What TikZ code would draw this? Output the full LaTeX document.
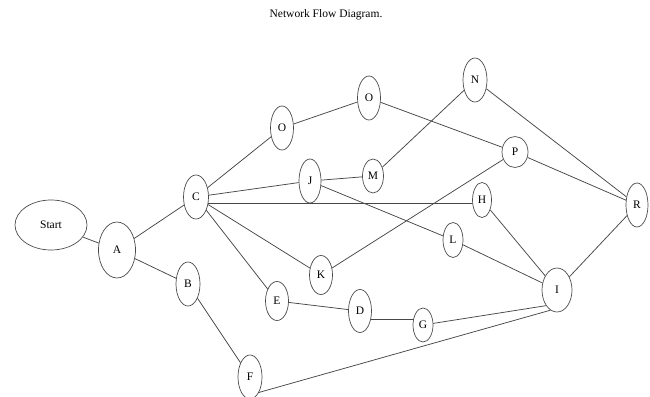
\documentclass[tikz,border=0pt]{standalone}
\usepackage{fontspec}
\setmainfont{Liberation Serif}
\usetikzlibrary{shapes.geometric,backgrounds}
\begin{document}
\begin{tikzpicture}[x=1pt,y=-1pt,
  every node/.style={font=\fontsize{11.5}{13}\selectfont},
  nd/.style={ellipse,draw=black!70,line width=0.7pt,inner sep=0pt,fill=white},
  edge/.style={draw=black!72,line width=0.75pt}]
\useasboundingbox (0,0) rectangle (650,396);
\node (title) at (326,15) {Network Flow Diagram.};
\node[nd,minimum width=72,minimum height=50] (start) at (51,225) {Start};
\node[nd,minimum width=37,minimum height=56] (A) at (117,250) {A};
\node[nd,minimum width=25,minimum height=44] (C) at (196,197) {C};
\node[nd,minimum width=24,minimum height=44] (B) at (188,284) {B};
\node[nd,minimum width=23,minimum height=44] (O1) at (282,128) {O};
\node[nd,minimum width=23,minimum height=44] (O2) at (369,98) {O};
\node[nd,minimum width=22,minimum height=44] (J) at (310,181) {J};
\node[nd,minimum width=21,minimum height=34] (M) at (373,176) {M};
\node[nd,minimum width=24,minimum height=44] (N) at (475,80) {N};
\node[nd,minimum width=26,minimum height=31] (P) at (515,152) {P};
\node[nd,minimum width=19,minimum height=35] (H) at (482,200) {H};
\node[nd,minimum width=22,minimum height=44] (R) at (637,205) {R};
\node[nd,minimum width=20,minimum height=35] (L) at (453,240) {L};
\node[nd,minimum width=23,minimum height=39] (K) at (321,275) {K};
\node[nd,minimum width=23,minimum height=39] (E) at (277,301) {E};
\node[nd,minimum width=23,minimum height=43] (D) at (360,311) {D};
\node[nd,minimum width=20,minimum height=34] (G) at (423,325) {G};
\node[nd,minimum width=30,minimum height=44] (I) at (557,290) {I};
\node[nd,minimum width=24,minimum height=44] (F) at (250,377) {F};
\begin{scope}[on background layer]
\path[edge] (start) -- (A);
\path[edge] (A) -- (C);
\path[edge] (A) -- (B);
\path[edge] (B) -- (F);
\path[edge] (C) -- (O1);
\path[edge] (O1) -- (O2);
\path[edge] (O2) -- (P);
\path[edge] (C) -- (J);
\path[edge] (J) -- (M);
\path[edge] (M) -- (N);
\path[edge] (N) -- (R);
\path[edge] (P) -- (R);
\path[edge] (C.center |- 0,203) -- (H.center |- 0,203);
\path[edge] (J) -- (L);
\path[edge] (C) -- (K);
\path[edge] (C) -- (E);
\path[edge] (K) -- (P);
\path[edge] (H) -- (I);
\path[edge] (L) -- (I);
\path[edge] (E) -- (D);
\path[edge] (D.center |- 0,319) -- (G.center |- 0,319);
\path[edge] (G.center) -- (I.-125);
\path[edge] (F.-60) -- (I.-108);
\path[edge] (I) -- (R);
\end{scope}
\end{tikzpicture}
\end{document}
